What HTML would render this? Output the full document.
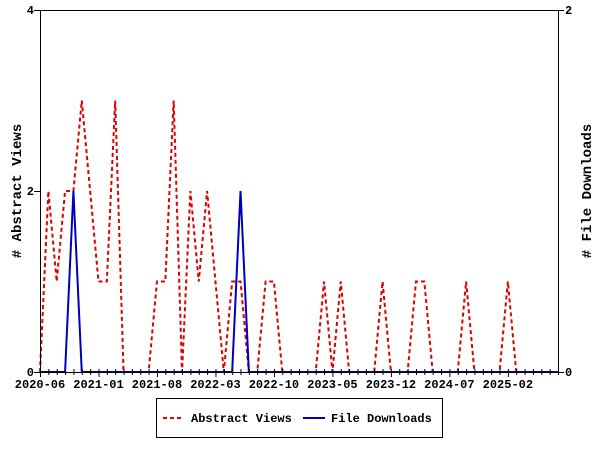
<!DOCTYPE html>
<html><head><meta charset="utf-8"><style>
html,body{margin:0;padding:0;background:#fff;}
svg{display:block;font-family:"Liberation Mono",monospace;}
</style></head><body>
<svg id="chart" width="600" height="450" viewBox="0 0 600 450" xmlns="http://www.w3.org/2000/svg">
<rect x="0" y="0" width="600" height="450" fill="#fff"/>
<g id="grid"></g>
<g id="series"></g>
<g id="axes"></g>
<text transform="translate(21,191) rotate(-90)" text-anchor="middle" font-size="14" font-weight="bold">#  Abstract Views</text>
<text transform="translate(591,191) rotate(-90)" text-anchor="middle" font-size="14" font-weight="bold"># File Downloads</text>
<g>
<rect x="156.5" y="398.5" width="286" height="39" fill="#fff" stroke="#000"/>
<line x1="163" y1="418" x2="184" y2="418" stroke="#dd0000" stroke-width="2" stroke-dasharray="4,3"/>
<text x="191" y="422" font-size="12" font-weight="bold">Abstract Views</text>
<line x1="303" y1="418" x2="325" y2="418" stroke="#0000bb" stroke-width="2"/>
<text x="331" y="422" font-size="12" font-weight="bold">File Downloads</text>
</g>
</svg>
<script>
const months = (function(){const a=[];let y=2020,m=6;for(let i=0;i<63;i++){a.push(y+'-'+String(m).padStart(2,'0'));m++;if(m>12){m=1;y++;}}return a;})();
const abstractViews = [0,2,1,2,2,3,2,1,1,3,0,0,0,0,1,1,3,0,2,1,2,1,0,1,1,0,0,1,1,0,0,0,0,0,1,0,1,0,0,0,0,1,0,0,0,1,1,0,0,0,0,1,0,0,0,0,1,0,0,0,0,0,0];
const fileDownloads = [0,0,0,0,1,0,0,0,0,0,0,0,0,0,0,0,0,0,0,0,0,0,0,0,1,0,0,0,0,0,0,0,0,0,0,0,0,0,0,0,0,0,0,0,0,0,0,0,0,0,0,0,0,0,0,0,0,0,0,0,0,0,0];
const leftTicks = [0,2,4];
const rightTicks = [0,2];
const xLabelEvery = 7;

const X0=40,X1=558,Y0=372,Y1=10;
const x=i=>X0+(X1-X0)*i/(months.length-1);
const yL=v=>Y0-(Y0-Y1)*v/4;
const yR=v=>Y0-(Y0-Y1)*v/2;
const NS='http://www.w3.org/2000/svg';
function mk(tag,attrs,parent){const e=document.createElementNS(NS,tag);for(const k in attrs)e.setAttribute(k,attrs[k]);parent.appendChild(e);return e;}
const axes=document.getElementById('axes'), series=document.getElementById('series');

const red=mk('polyline',{points:abstractViews.map((v,i)=>x(i)+','+yL(v)).join(' '),fill:'none',stroke:'#dd0000','stroke-width':2,'stroke-dasharray':'4,3'},series);


const blue=mk('polyline',{points:fileDownloads.map((v,i)=>x(i)+','+yR(v)).join(' '),fill:'none',stroke:'#0000bb','stroke-width':2},series);



const frame=mk('rect',{x:X0+0.5,y:Y1+0.5,width:X1-X0,height:Y0-Y1,fill:'none',stroke:'#000'},axes);



leftTicks.forEach(v=>{
  mk('line',{x1:X0-6,x2:X0,y1:yL(v)+0.5,y2:yL(v)+0.5,stroke:'#000'},axes);
  const t=mk('text',{x:X0-6,y:yL(v)+4,'text-anchor':'end','font-size':12,'font-weight':'bold'},axes);
  t.textContent=v;
  
  
});
rightTicks.forEach(v=>{
  mk('line',{x1:X1,x2:X1+6,y1:yR(v)+0.5,y2:yR(v)+0.5,stroke:'#000'},axes);
  const t=mk('text',{x:X1+7,y:yR(v)+4,'text-anchor':'start','font-size':12,'font-weight':'bold'},axes);
  t.textContent=v;
  
  
});
months.forEach((m,i)=>{
  const major=i%xLabelEvery===0;
  mk('line',{x1:x(i)+0.5,x2:x(i)+0.5,y1:Y0-3,y2:Y0+(major?5:3),stroke:'#000'},axes);
  if(major){
    const t=mk('text',{x:x(i),y:Y0+16,'text-anchor':'middle','font-size':12,'font-weight':'bold'},axes);
    t.textContent=m;
    
    
  }
});
</script>
</body></html>
